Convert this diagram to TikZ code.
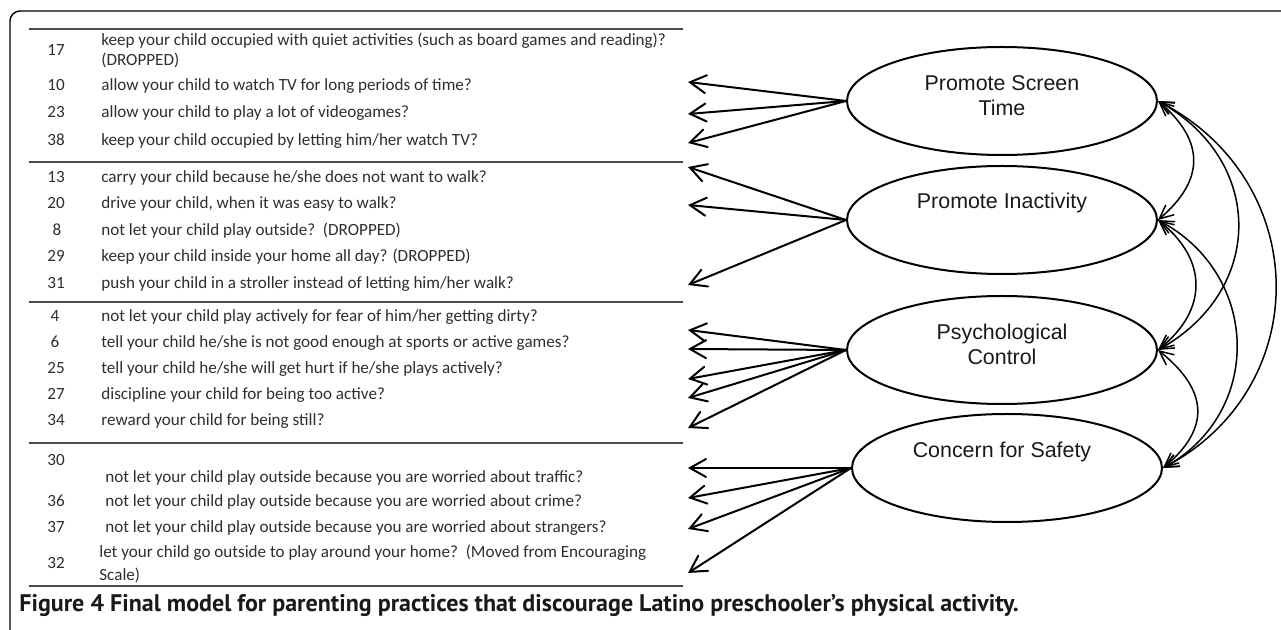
\documentclass[tikz,border=0pt]{standalone}
\usepackage{fontspec}
\setmainfont{Carlito}
\newfontfamily\ellfont{Liberation Sans}
\newfontfamily\capfont{PT Sans}
\usetikzlibrary{shapes.geometric,arrows.meta}
\begin{document}
\begin{tikzpicture}[x=0.5pt,y=-0.5pt,
  item/.style={anchor=base west,inner sep=0pt,font=\fontsize{8.55}{10.5}\selectfont,text=black!82},
  num/.style={anchor=base,inner sep=0pt,font=\fontsize{8.55}{10.5}\selectfont,text=black!82},
  rule/.style={line width=1pt,draw=black!70},
  lat/.style={draw,ellipse,line width=1pt,minimum width=155pt,minimum height=54pt,inner sep=0pt},
  ltext/.style={font=\ellfont\fontsize{10.7}{12.5}\selectfont,align=center,text=black!90},
  load/.style={line width=1pt,line cap=round,-{Straight Barb[length=8pt,width=9pt,line cap=round]}},
  cov/.style={line width=0.75pt,{Straight Barb[length=7pt,width=6.5pt]}-{Straight Barb[length=7pt,width=6.5pt]}}
]
\useasboundingbox (0,0) rectangle (1281,630);
% frame
\draw[line width=0.7pt,rounded corners=5pt] (10,640) -- (10,11) -- (1290,11);

% table rules
\draw[rule] (29,29) -- (683,29);
\draw[rule] (29,162) -- (683,162);
\draw[rule] (29,302) -- (683,302);
\draw[rule] (29,443) -- (683,443);
\draw[rule] (29,586) -- (683,586);

% rows
\node[num] (n17) at (56,56) {17};
\node[item] (t17) at (101,46) {keep your child occupied with quiet activities (such as board games and reading)?};
\node[item] (t17b) at (101,66) {(DROPPED)};
\node[num] (n10) at (56,91) {10};
\node[item] (t10) at (101,91) {allow your child to watch TV for long periods of time?};
\node[num] (n23) at (56,118) {23};
\node[item] (t23) at (101,118) {allow your child to play a lot of videogames?};
\node[num] (n38) at (56,146) {38};
\node[item] (t38) at (101,146) {keep your child occupied by letting him/her watch TV?};
\node[num] (n13) at (56,183) {13};
\node[item] (t13) at (101,183) {carry your child because he/she does not want to walk?};
\node[num] (n20) at (56,209) {20};
\node[item] (t20) at (101,209) {drive your child, when it was easy to walk?};
\node[num] (n8) at (57,236) {8};
\node[item] (t8) at (101,236) {not let your child play outside?\ \ (DROPPED)};
\node[num] (n29) at (56,262) {29};
\node[item] (t29) at (101,262) {keep your child inside your home all day? (DROPPED)};
\node[num] (n31) at (56,289) {31};
\node[item] (t31) at (101,289) {push your child in a stroller instead of letting him/her walk?};
\node[num] (n4) at (55,322) {4};
\node[item] (t4) at (101,322) {not let your child play actively for fear of him/her getting dirty?};
\node[num] (n6) at (55,348) {6};
\node[item] (t6) at (101,348) {tell your child he/she is not good enough at sports or active games?};
\node[num] (n25) at (56,374) {25};
\node[item] (t25) at (101,374) {tell your child he/she will get hurt if he/she plays actively?};
\node[num] (n27) at (56,400) {27};
\node[item] (t27) at (101,400) {discipline your child for being too active?};
\node[num] (n34) at (56,426) {34};
\node[item] (t34) at (101,426) {reward your child for being still?};
\node[num] (n30) at (56,466) {30};
\node[item] (t30) at (105,483) {not let your child play outside because you are worried about traffic?};
\node[num] (n36) at (56,507) {36};
\node[item] (t36) at (105,507) {not let your child play outside because you are worried about crime?};
\node[num] (n37) at (56,533) {37};
\node[item] (t37) at (105,533) {not let your child play outside because you are worried about strangers?};
\node[num] (n32) at (56,569) {32};
\node[item] (t32) at (99,558) {let your child go outside to play around your home?\ \ (Moved from Encouraging};
\node[item] (t32b) at (99,581) {Scale)};

% caption
\node[anchor=base west,inner sep=0pt,font=\capfont\bfseries\fontsize{12}{14}\selectfont,text=black!90] (cap) at (19,612)
  {Figure 4 Final model for parenting practices that discourage Latino preschooler’s physical activity.};

% latent variables
\node[lat] (st) at (1002,101) {};
\node[ltext] (stt) at (1002,95.5) {Promote Screen\\Time};
\node[lat] (pi) at (1002,220) {};
\node[ltext] (pit) at (1002,203) {Promote Inactivity};
\node[lat] (pc) at (1002,350) {};
\node[ltext] (pct) at (1002,344) {Psychological\\Control};
\node[lat] (cs) at (1007,468) {};
\node[ltext] (cst) at (1002,452) {Concern for Safety};

% arrow tips
\coordinate (a10) at (688,82);
\coordinate (a23) at (688,114);
\coordinate (a38) at (688,143);
\coordinate (a13) at (688,167);
\coordinate (a20) at (688,205);
\coordinate (a31) at (688,285);
\coordinate (a4) at (688,330);
\coordinate (a6) at (688,349);
\coordinate (a25) at (688,379);
\coordinate (a27) at (688,398);
\coordinate (a34) at (688,428);
\coordinate (a30) at (688,468);
\coordinate (a36) at (688,498);
\coordinate (a37) at (688,529);
\coordinate (a32) at (688,573);

\foreach \t in {a10,a23,a38} \draw[load] (st.west) -- (\t);
\foreach \t in {a13,a20,a31} \draw[load] (pi.west) -- (\t);
\foreach \t in {a4,a6,a25,a27,a34} \draw[load] (pc.west) -- (\t);
\foreach \t in {a30,a36,a37,a32} \draw[load] (cs.west) -- (\t);

% covariances
\draw[cov] (st.east) .. controls +(47,40) and +(47,-40) .. (pi.east);
\draw[cov] (st.east) .. controls +(107,60) and +(107,-60) .. (pc.east);
\draw[cov] (st.east) .. controls +(155,80) and +(152,-80) .. (cs.east);
\draw[cov] (pi.east) .. controls +(50,40) and +(50,-40) .. (pc.east);
\draw[cov] (pi.east) .. controls +(103,55) and +(100,-55) .. (cs.east);
\draw[cov] (pc.east) .. controls +(50,40) and +(48,-40) .. (cs.east);
\end{tikzpicture}
\end{document}
